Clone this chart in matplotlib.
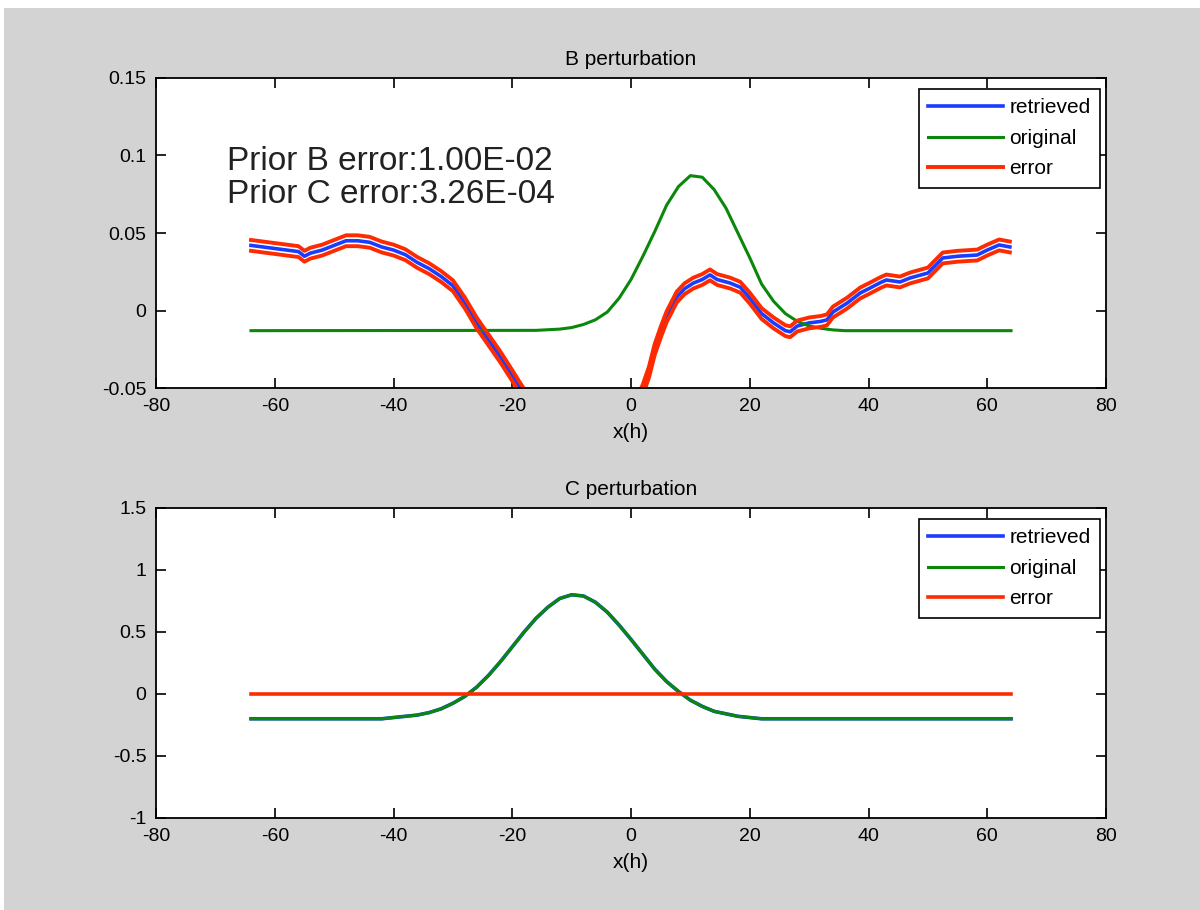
import numpy as np
import matplotlib
matplotlib.use("Agg")
import matplotlib.pyplot as plt
from matplotlib.patches import Rectangle

plt.rcParams['font.family'] = ['Liberation Sans', 'DejaVu Sans']
plt.rcParams['axes.unicode_minus'] = False

# B perturbation: original (green)
b_orig_x = [-64, -16, -12, -10, -8, -6, -4, -2, 0, 2, 4, 6, 8, 10, 12, 14, 16, 18,
            20, 22, 24, 26, 28, 30, 32, 34, 36, 64]
b_orig_y = [-0.013, -0.0128, -0.012, -0.011, -0.009, -0.006, -0.001, 0.008, 0.020,
            0.035, 0.051, 0.068, 0.080, 0.087, 0.086, 0.078, 0.066, 0.050, 0.034,
            0.017, 0.006, -0.002, -0.007, -0.010, -0.0115, -0.0125, -0.013, -0.013]

# B perturbation: retrieved (blue), drops below the axis between -18 and 2
b_retr_x = [-64, -62, -60, -58, -56, -55, -54, -52, -50, -48, -46, -44, -42, -40,
            -38, -36, -34, -32, -30, -28, -26, -24, -22, -20, -18.7, -17,
            1, 2, 3, 4, 5, 6, 7.7, 9, 10.5, 12, 13.3, 14.5, 16.7, 18.4, 20, 22, 24,
            26, 26.8, 28, 30, 32, 33, 34, 36.4, 38.6, 40, 42, 43, 45.3, 47, 50,
            52.5, 55, 58.3, 60, 62, 63.8]
b_retr_y = [0.042, 0.041, 0.040, 0.039, 0.038, 0.035, 0.037, 0.039, 0.042, 0.045,
            0.045, 0.044, 0.041, 0.039, 0.036, 0.031, 0.027, 0.022, 0.016, 0.005,
            -0.008, -0.019, -0.030, -0.042, -0.050, -0.060,
            -0.060, -0.051, -0.040, -0.025, -0.014, -0.004, 0.0087, 0.014, 0.0177,
            0.020, 0.023, 0.020, 0.0177, 0.015, 0.008, -0.002, -0.008, -0.013,
            -0.0137, -0.010, -0.008, -0.007, -0.006, -0.001, 0.0048, 0.0113, 0.014,
            0.018, 0.0197, 0.0184, 0.021, 0.0242, 0.0339, 0.035, 0.0358, 0.039,
            0.0423, 0.041]
b_err = 0.0035  # half width of the red error band

# C perturbation: original (green); retrieved is identical, error is zero
c_x = [-64, -42, -40, -38, -36, -34, -32, -30, -28, -26, -24, -22, -20, -18, -16,
       -14, -12, -10, -8, -6, -4, -2, 0, 2, 4, 6, 8, 10, 12, 14, 16, 18, 20, 22, 64]
c_orig_y = [-0.2, -0.2, -0.19, -0.18, -0.17, -0.15, -0.12, -0.075, -0.02, 0.055,
            0.15, 0.26, 0.38, 0.50, 0.61, 0.70, 0.77, 0.80, 0.79, 0.74, 0.66, 0.555,
            0.44, 0.32, 0.20, 0.10, 0.02, -0.05, -0.10, -0.14, -0.16, -0.18, -0.19,
            -0.2, -0.2]
c_retr_y = list(c_orig_y)
c_err_x = [-64, 64]
c_err_y = [0, 0]

prior_text = ["Prior B error:1.00E-02", "Prior C error:3.26E-04"]

blue = '#1a3cff'
green = '#0b870b'
red = '#ff2b00'

fig = plt.figure(figsize=(12, 9.1), dpi=100)
fig.patch.set_facecolor('white')
fig.patches.append(Rectangle((4 / 1200, 0), 1, 1 - 8 / 910, transform=fig.transFigure,
                             facecolor='#d3d3d3', edgecolor='none', zorder=-10))

ax1 = fig.add_axes([0.13, 0.5736, 0.7917, 0.3407])
ax2 = fig.add_axes([0.13, 0.1011, 0.7917, 0.3407])

b_lo = np.array(b_retr_y) - b_err
b_hi = np.array(b_retr_y) + b_err
ax1.plot(b_retr_x, b_retr_y, color=blue, lw=2.6, label='retrieved')
ax1.plot(b_orig_x, b_orig_y, color=green, lw=2.2, label='original')
ax1.plot(b_retr_x, b_hi, color=red, lw=2.8, label='error')
ax1.plot(b_retr_x, b_lo, color=red, lw=2.8)
ax1.set_ylim(-0.05, 0.15)
ax1.set_yticks([-0.05, 0, 0.05, 0.1, 0.15])
ax1.set_yticklabels(['-0.05', '0', '0.05', '0.1', '0.15'])
ax1.set_title('B perturbation', fontsize=15, pad=9)
ax1.text(-68, 0.0906, prior_text[0], fontsize=24, va='baseline', color='#222222')
ax1.text(-68, 0.0694, prior_text[1], fontsize=24, va='baseline', color='#222222')

ax2.plot(c_x, c_retr_y, color=blue, lw=2.6, label='retrieved')
ax2.plot(c_x, c_orig_y, color=green, lw=2.2, label='original')
ax2.plot(c_err_x, c_err_y, color=red, lw=2.6, label='error')
ax2.set_ylim(-1, 1.5)
ax2.set_yticks([-1, -0.5, 0, 0.5, 1, 1.5])
ax2.set_yticklabels(['-1', '-0.5', '0', '0.5', '1', '1.5'])
ax2.set_title('C perturbation', fontsize=15, pad=9)

for ax in (ax1, ax2):
    ax.set_xlim(-80, 80)
    ax.set_xticks(range(-80, 81, 20))
    ax.set_xlabel('x(h)', fontsize=15, labelpad=6)
    ax.tick_params(direction='in', top=True, right=True, length=7, width=1.2,
                   labelsize=14, pad=7)
    for s in ax.spines.values():
        s.set_linewidth(1.3)
    leg = ax.legend(loc='upper right', bbox_to_anchor=(0.9937, 0.9645),
                    borderaxespad=0, fancybox=False, edgecolor='black',
                    fontsize=15, handlelength=3.6, handletextpad=0.3,
                    labelspacing=0.55, borderpad=0.45, framealpha=1)
    leg.get_frame().set_linewidth(1.2)

fig.savefig('out.png', dpi=100, facecolor=fig.get_facecolor())
